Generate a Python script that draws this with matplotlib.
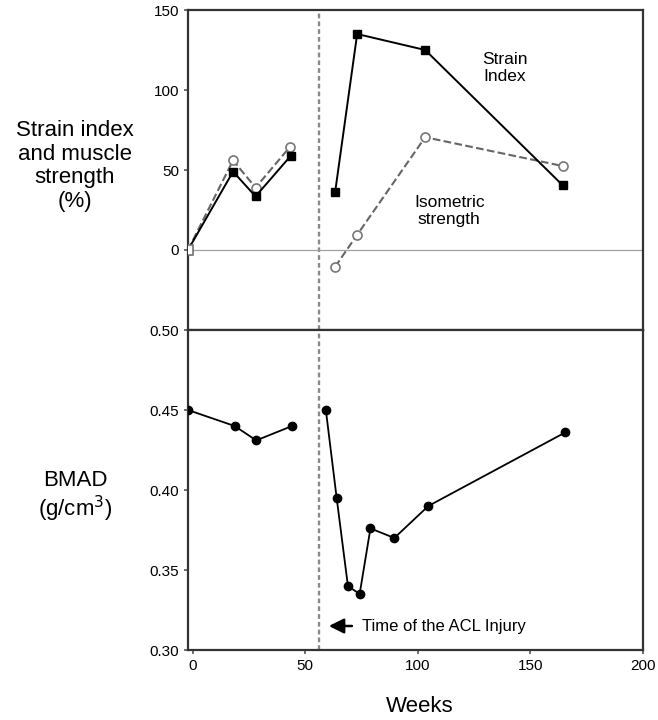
import matplotlib
matplotlib.use('Agg')
import matplotlib.pyplot as plt

plt.rcParams['font.family'] = ['Liberation Sans', 'DejaVu Sans']

# top panel: strain index and isometric strength (%)
strain_weeks = [-2, 18, 28, 43.7, 63.3, 73.1, 103.3, 164.3]
strain_index = [0, 49, 33.5, 59, 36, 135, 125, 40.5]
iso_weeks = [-2, 18, 28, 43.3, 63.3, 73.1, 103.3, 164.3]
iso_strength = [0, 56, 39, 64.5, -10.5, 9.5, 70.5, 52.5]

# bottom panel: BMAD
bmad_weeks = [-2, 18.7, 28.3, 44.2, 59.2, 64, 69, 74.2, 79, 89.6, 104.7, 165.5]
bmad = [0.450, 0.440, 0.431, 0.440, 0.450, 0.395, 0.340, 0.335, 0.376, 0.370, 0.390, 0.436]

injury_week = 56
x_ticks = [0, 50, 100, 150, 200]
top_ticks = [0, 50, 100, 150]
bottom_ticks = [0.30, 0.35, 0.40, 0.45, 0.50]

fig = plt.figure(figsize=(6.58, 7.2), dpi=100)
ax1 = fig.add_axes([188 / 658, 1 - 330 / 720, (643 - 188) / 658, 320 / 720])
ax2 = fig.add_axes([188 / 658, 1 - 650 / 720, (643 - 188) / 658, 320 / 720], sharex=ax1)

for ax in (ax1, ax2):
    for s in ax.spines.values():
        s.set_linewidth(1.6)
        s.set_color('#333333')
    ax.axvline(injury_week, color='#8a8a8a', ls=(0, (2, 1.3)), lw=1.7, zorder=1)
    ax.tick_params(labelsize=11, length=3, width=1.2, color='#555555')

ax1.axhline(0, color='#a0a0a0', lw=0.9, zorder=1)
ax1.plot(iso_weeks[:4], iso_strength[:4], color='#666666', ls='--', lw=1.5,
         marker='o', ms=6.5, mfc='white', mec='#777777', mew=1.2, zorder=2)
ax1.plot(iso_weeks[4:], iso_strength[4:], color='#666666', ls='--', lw=1.5,
         marker='o', ms=6.5, mfc='white', mec='#777777', mew=1.2, zorder=2)
ax1.plot(strain_weeks[:4], strain_index[:4], color='black', lw=1.4,
         marker='s', ms=6, zorder=3)
ax1.plot(strain_weeks[4:], strain_index[4:], color='black', lw=1.4,
         marker='s', ms=6, zorder=3)
# open start point drawn on top
ax1.plot(iso_weeks[0], iso_strength[0], marker='s', ms=7, mfc='white', mec='#777777',
         mew=1.2, ls='none', zorder=4)

ax1.set_ylim(-50, 150)
ax1.set_yticks(top_ticks)
ax1.tick_params(axis='x', bottom=False, labelbottom=False)
ax1.text(138.7, 113.7, 'Strain\nIndex', ha='center', va='center', fontsize=12.5)
ax1.text(114, 24.4, 'Isometric\nstrength', ha='center', va='center', fontsize=12.5)

ax2.plot(bmad_weeks[:4], bmad[:4], color='black', lw=1.3, marker='o', ms=6, zorder=3)
ax2.plot(bmad_weeks[4:], bmad[4:], color='black', lw=1.3, marker='o', ms=6, zorder=3)
ax2.set_ylim(0.30, 0.50)
ax2.set_yticks(bottom_ticks)
ax2.set_yticklabels(['%.2f' % v for v in bottom_ticks])
ax2.set_xlim(-2, 200)
ax2.set_xticks(x_ticks)
ax2.annotate('', xy=(59.3, 0.315), xytext=(72, 0.315),
             arrowprops=dict(arrowstyle='-|>,head_length=0.9,head_width=0.45',
                             color='black', lw=1.8))
ax2.text(75.2, 0.315, 'Time of the ACL Injury', ha='left', va='center', fontsize=12)

fig.text(75 / 658, 1 - 166 / 720, 'Strain index\nand muscle\nstrength\n(%)',
         ha='center', va='center', fontsize=16, linespacing=1.15)
fig.text(75 / 658, 1 - 497 / 720, 'BMAD\n(g/cm$^3$)', ha='center', va='center',
         fontsize=16, linespacing=1.15)
fig.text(420 / 658, 1 - 707 / 720, 'Weeks', ha='center', va='center', fontsize=16)

fig.savefig('out.png', dpi=100)
